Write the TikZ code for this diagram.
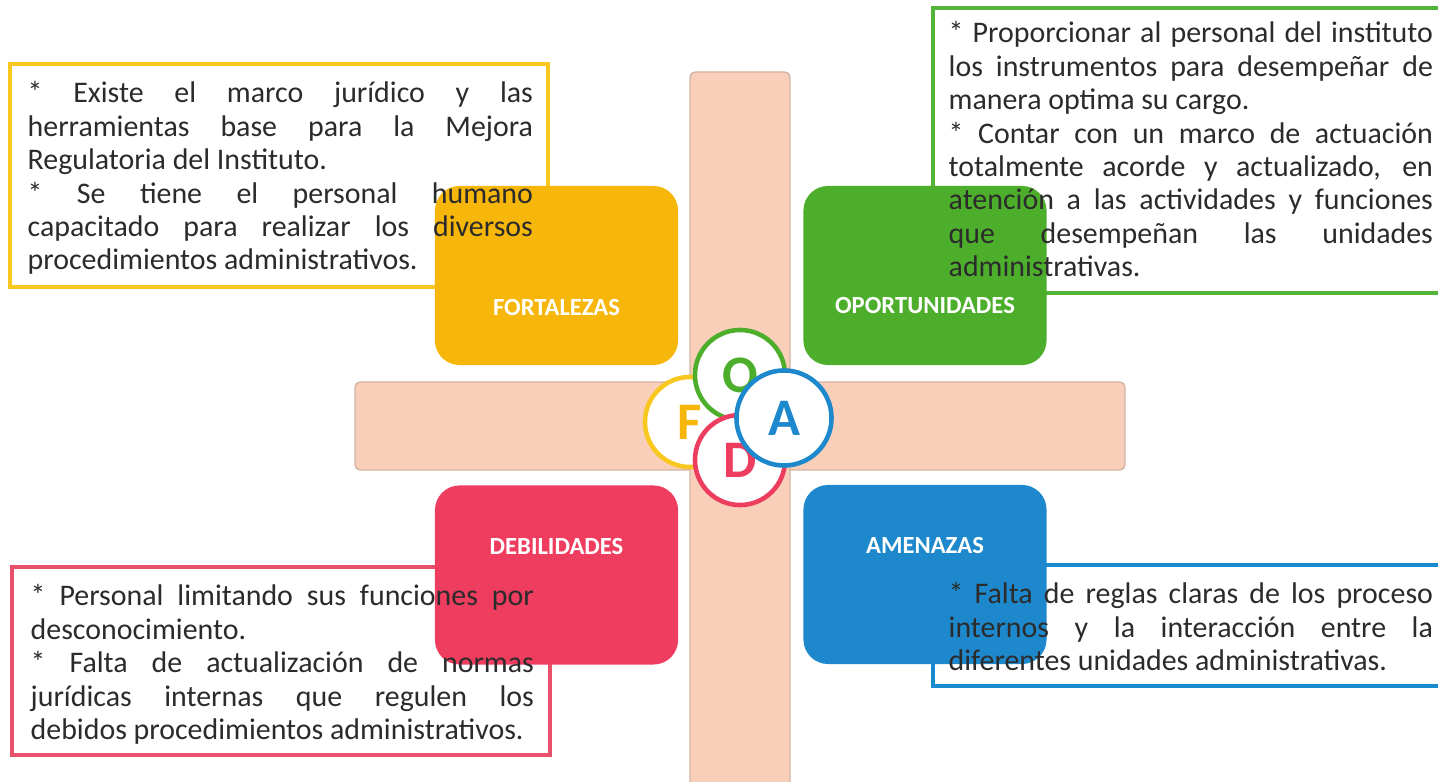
\documentclass[tikz,border=0pt]{standalone}
\usepackage{fontspec}
\setmainfont{Carlito}
\usetikzlibrary{positioning}

\definecolor{fyellow}{HTML}{F6B60A}
\definecolor{fyframe}{HTML}{F8C820}
\definecolor{ogreen}{HTML}{4DAE2C}
\definecolor{ogframe}{HTML}{52B53A}
\definecolor{dred}{HTML}{EE3D5E}
\definecolor{drframe}{HTML}{E9506B}
\definecolor{ablue}{HTML}{1E88CC}
\definecolor{abframe}{HTML}{1A8AD0}
\definecolor{barfill}{HTML}{F9CFB9}
\definecolor{bardraw}{HTML}{D2B4A4}
\definecolor{txtgray}{HTML}{2B2B2B}

\tikzset{
  frame/.style={line width=1.4pt, fill=white},
  tile/.style={rounded corners=7pt, minimum width=2.43cm, minimum height=1.79cm, inner sep=0pt},
  tilelabel/.style={text=white, font=\bfseries\fontsize{7}{8}\selectfont},
  txt/.style={anchor=north west, inner sep=0pt, align=justify, text=txtgray,
    font=\fontsize{8.5}{9.5}\selectfont,
    execute at begin node={\setlength{\parindent}{0pt}}},
  letter/.style={circle, draw, line width=1.3pt, fill=white, minimum size=0.9cm, inner sep=0pt,
    font=\bfseries\fontsize{15}{15}\selectfont},
  bar/.style={fill=barfill, draw=bardraw, line width=0.4pt, rounded corners=1.5pt}
}

\begin{document}
\begin{tikzpicture}[x=0.01cm, y=-0.01cm, line cap=round]

    \useasboundingbox[fill=white] (0,0) rectangle (1438,782);

    % cross
    \draw[bar] (355,382) rectangle (1125,470);
    \draw[bar] (690,72) rectangle (790,800);

    % frames behind the tiles
    \draw[frame, draw=fyframe] (10,64) rectangle (548,287);
    \draw[frame, draw=ogframe] (933,8) rectangle (1460,293);
    \draw[frame, draw=drframe] (12,567) rectangle (550,755);
    \draw[frame, draw=abframe] (933,565) rectangle (1460,686);

    % tiles
    \node[tile, fill=fyellow] (fort) at (556.5,275.5) {};
    \node[tile, fill=ogreen] (opor) at (925,275.5) {};
    \node[tile, fill=dred] (debi) at (556.5,575) {};
    \node[tile, fill=ablue] (amen) at (925,574.5) {};

    \node[tilelabel] (fortlbl) at ([yshift=-0.32cm]fort.center) {FORTALEZAS};
    \node[tilelabel] (oporlbl) at ([yshift=-0.3cm]opor.center) {OPORTUNIDADES};
    \node[tilelabel] (debilbl) at ([yshift=0.28cm]debi.center) {DEBILIDADES};
    \node[tilelabel] (amenlbl) at ([yshift=0.29cm]amen.center) {AMENAZAS};

    % texts
    \node[txt, text width=5.05cm] (forttxt) at (27,81) {%
      * Existe el marco jurídico y las\linebreak
      herramientas base para la Mejora\linebreak
      Regulatoria del Instituto.\par
      * Se tiene el personal humano\linebreak
      capacitado para realizar los diversos\linebreak
      procedimientos administrativos.};
    \node[txt, text width=4.84cm] (oportxt) at (948,21) {%
      * Proporcionar al personal del instituto\linebreak
      los instrumentos para desempeñar de\linebreak
      manera optima su cargo.\par
      * Contar con un marco de actuación\linebreak
      totalmente acorde y actualizado, en\linebreak
      atención a las actividades y funciones\linebreak
      que desempeñan las unidades\linebreak
      administrativas.};
    \node[txt, text width=5.03cm] (debitxt) at (30,584) {%
      * Personal limitando sus funciones por\linebreak
      desconocimiento.\par
      * Falta de actualización de normas\linebreak
      jurídicas internas que regulen los\linebreak
      debidos procedimientos administrativos.};
    \node[txt, text width=4.84cm] (amentxt) at (948,582) {%
      * Falta de reglas claras de los proceso\linebreak
      internos y la interacción entre la\linebreak
      diferentes unidades administrativas.};

    % FODA rings
    \node[letter, draw=fyframe, text=fyellow] (F) at (690,422) {F};
    \node[letter, draw=ogreen, text=ogreen] (O) at (740,375) {O};
    \node[letter, draw=dred, text=dred] (D) at (740,460) {D};
    \node[letter, draw=ablue, text=ablue, minimum size=0.95cm] (A) at (784,418) {A};

\end{tikzpicture}
\end{document}
